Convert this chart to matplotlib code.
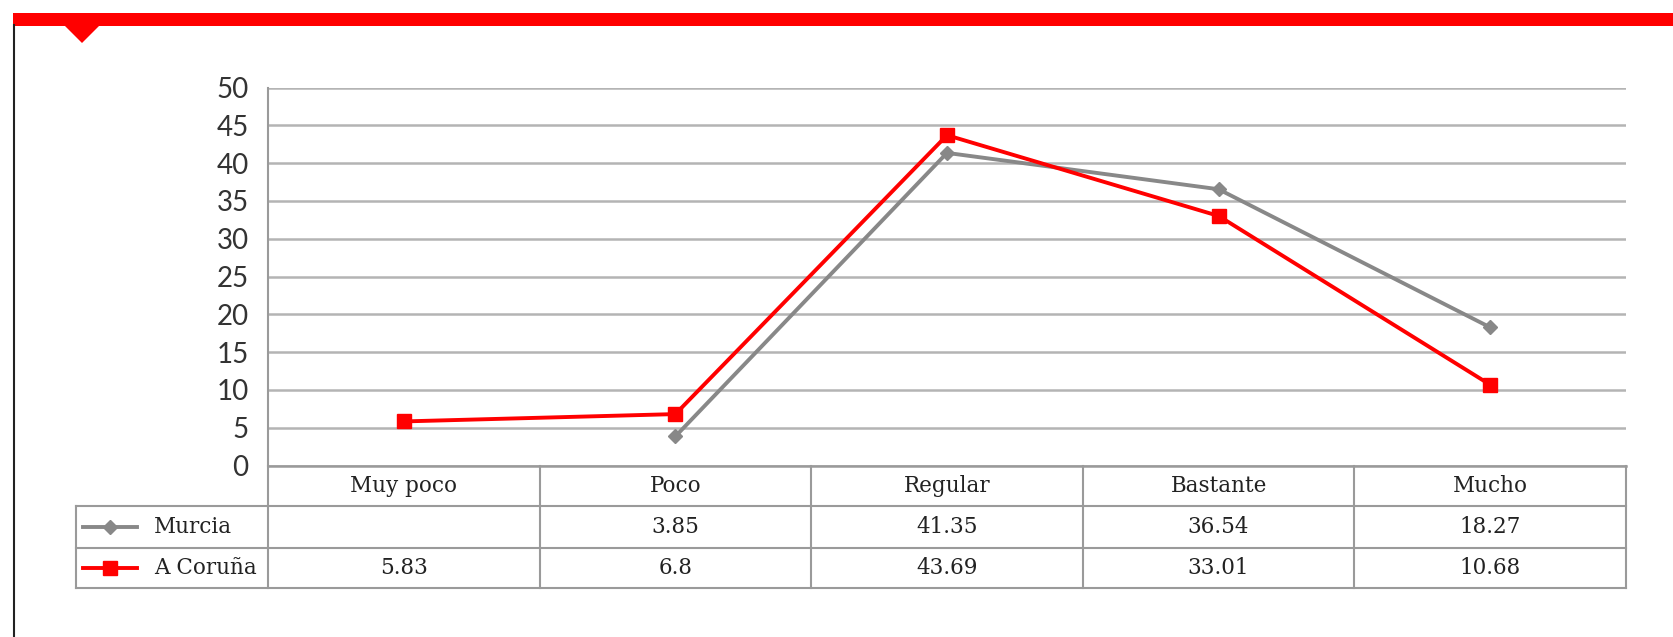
import matplotlib
matplotlib.use("Agg")
import matplotlib.pyplot as plt
import matplotlib.transforms as mtransforms
from matplotlib.patches import Rectangle, Polygon
from matplotlib.lines import Line2D
import numpy as np

# data
categories = ["Muy poco", "Poco", "Regular", "Bastante", "Mucho"]
murcia = [np.nan, 3.85, 41.35, 36.54, 18.27]
coruna = [5.83, 6.8, 43.69, 33.01, 10.68]
murcia_txt = ["", "3.85", "41.35", "36.54", "18.27"]
coruna_txt = ["5.83", "6.8", "43.69", "33.01", "10.68"]
series_names = ["Murcia", "A Coruña"]
yticks = list(range(0, 55, 5))

W, H = 1674, 637
fig = plt.figure(figsize=(W / 100, H / 100), dpi=100)

def fx(px):
    return px / W

def fy(py):
    return 1 - py / H

# plot area in pixels
left, right, top, bottom = 268, 1626, 87.5, 465.5
ax = fig.add_axes([fx(left), fy(bottom), fx(right) - fx(left), fy(top) - fy(bottom)])

gray = "#888888"
red = "#ff0000"
grid_c = "#b4b4b4"
border_c = "#9a9a9a"

x = np.arange(len(categories))
ax.plot(x, murcia, color=gray, lw=2.8, marker="D", ms=7.5, mec=gray, mfc=gray, zorder=3)
ax.plot(x, coruna, color=red, lw=2.8, marker="s", ms=10.5, mec=red, mfc=red, zorder=4)

ax.set_xlim(-0.5, len(categories) - 0.5)
ax.set_ylim(0, 50)
ax.set_yticks(yticks)
ax.set_yticklabels([str(t) for t in yticks], fontsize=20, family="Lato", color="#333333")
ax.set_xticks([])
ax.tick_params(axis="y", length=0, pad=14)
for s in ["top", "right", "bottom"]:
    ax.spines[s].set_visible(False)
ax.spines["left"].set_color(border_c)
ax.spines["left"].set_linewidth(1.5)
ax.yaxis.grid(True, color=grid_c, lw=1.8)
ax.set_axisbelow(True)

# table below the plot
def ay(py):
    return (bottom - py) / (bottom - top)

def ax_x(px):
    return (px - left) / (right - left)

rows = [bottom, 506, 547.7, 588]
ry = [ay(r) for r in rows]
tl = ax_x(76)
blend = mtransforms.blended_transform_factory(ax.transData, ax.transAxes)

ax.add_line(Line2D([0, 1], [0, 0], transform=ax.transAxes, color=border_c, lw=1.8, clip_on=False))
for yy in ry[1:]:
    ax.add_line(Line2D([tl, 1], [yy, yy], transform=ax.transAxes, color=border_c, lw=1.5, clip_on=False))
ax.add_line(Line2D([tl, tl], [ry[1], ry[3]], transform=ax.transAxes, color=border_c, lw=1.5, clip_on=False))
for b in np.arange(-0.5, len(categories), 1.0):
    ax.add_line(Line2D([b, b], [0, ry[3]], transform=blend, color=border_c, lw=1.5, clip_on=False))

tfont = dict(family="DejaVu Serif", fontsize=15.5, color="#222222")
for i, c in enumerate(categories):
    ax.text(i, (ry[0] + ry[1]) / 2, c, transform=blend, ha="center", va="center", **tfont)
    ax.text(i, (ry[1] + ry[2]) / 2, murcia_txt[i], transform=blend, ha="center", va="center", **tfont)
    ax.text(i, (ry[2] + ry[3]) / 2, coruna_txt[i], transform=blend, ha="center", va="center", **tfont)

# legend keys in the row label cells
for name, yy, col, mk, ms in [(series_names[0], (ry[1] + ry[2]) / 2, gray, "D", 7.5),
                              (series_names[1], (ry[2] + ry[3]) / 2, red, "s", 10.5)]:
    ax.add_line(Line2D([ax_x(83), ax_x(137)], [yy, yy], transform=ax.transAxes, color=col, lw=2.8, clip_on=False))
    ax.add_line(Line2D([ax_x(110)], [yy], transform=ax.transAxes, color=col, marker=mk, ms=ms, clip_on=False))
    ax.text(ax_x(154), yy, name, transform=ax.transAxes, ha="left", va="center", **tfont)

# frame decoration: red bar with notch and left black rule
fig.patches.append(Rectangle((fx(13), fy(25.5)), 1 - fx(13), fy(13) - fy(25.5), transform=fig.transFigure,
                             color=red, lw=0))
fig.patches.append(Polygon([(fx(64), fy(25)), (fx(100), fy(25)), (fx(82), fy(43))], closed=True,
                           transform=fig.transFigure, color=red, lw=0))
fig.lines.append(Line2D([fx(14), fx(14)], [fy(25), 0], transform=fig.transFigure, color="#222222", lw=1.5))

fig.savefig("out.png", dpi=100)
